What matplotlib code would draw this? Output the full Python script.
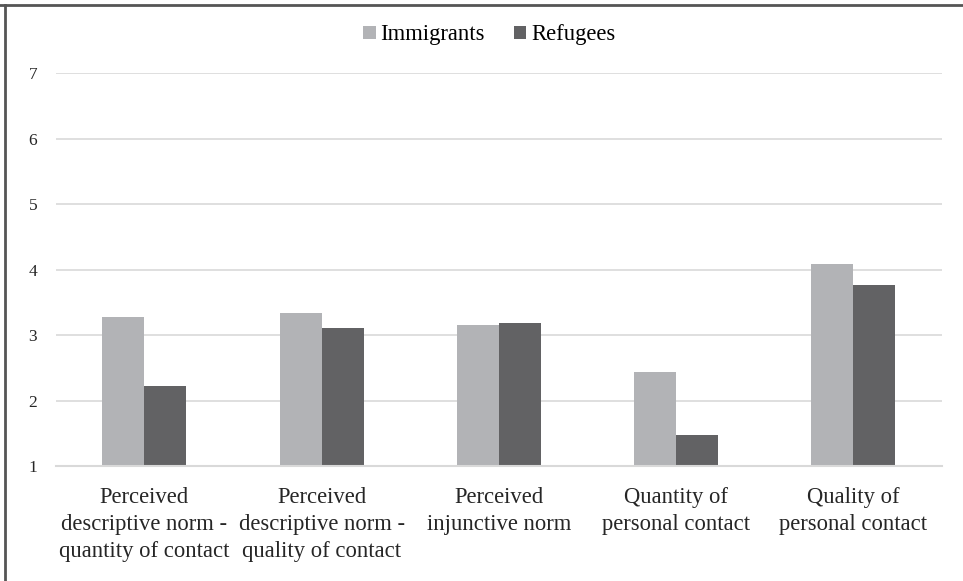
import numpy as np
import matplotlib.pyplot as plt
from matplotlib.lines import Line2D

# dados
categorias = ["Perceived\ndescriptive norm -\nquantity of contact",
              "Perceived\ndescriptive norm -\nquality of contact",
              "Perceived\ninjunctive norm",
              "Quantity of\npersonal contact",
              "Quality of\npersonal contact"]
imigrantes = [3.27, 3.34, 3.15, 2.43, 4.08]
refugiados = [2.22, 3.11, 3.18, 1.47, 3.76]
series = ["Immigrants", "Refugees"]
cores = ["#b2b3b6", "#626264"]

plt.rcParams['font.family'] = ['Liberation Serif', 'DejaVu Serif']

fig = plt.figure(figsize=(9.63, 5.81), dpi=100)
ax = fig.add_axes([0.058, 0.198, 0.92, 0.676])

x = np.arange(len(categorias))
w = 0.237
ax.bar(x - w/2, imigrantes, w, bottom=0, color=cores[0], label=series[0], zorder=2)
ax.bar(x + w/2, refugiados, w, bottom=0, color=cores[1], label=series[1], zorder=2)

ax.set_ylim(1, 7)
ax.set_xlim(-0.5, len(categorias) - 0.5)
ax.set_yticks(range(1, 8))
ax.yaxis.grid(True, color="#d9d9d9", linewidth=1.2, zorder=0)
ax.set_axisbelow(True)
for s in ["top", "right", "left"]:
    ax.spines[s].set_visible(False)
ax.spines["bottom"].set_color("#d9d9d9")
ax.spines["bottom"].set_linewidth(1.5)
ax.tick_params(axis="both", length=0, colors="#262626")
ax.tick_params(axis="y", labelsize=12.5, pad=13.5)
ax.set_xticks(x)
ax.set_xticklabels(categorias, fontsize=16.3, linespacing=1.36)
ax.tick_params(axis="x", pad=15.5)

fig.legend(loc="center", bbox_to_anchor=(0.508, 0.94), ncol=2, frameon=False,
           fontsize=16.3, handlelength=0.55, handleheight=0.55, handletextpad=0.2,
           columnspacing=1.3)

# moldura (linhas superior e esquerda)
fig.add_artist(Line2D([0, 1], [0.9915, 0.9915], color="#555555", lw=2, transform=fig.transFigure))
fig.add_artist(Line2D([0.005, 0.005], [0, 0.9915], color="#555555", lw=2, transform=fig.transFigure))

fig.savefig("out.png", dpi=100)
